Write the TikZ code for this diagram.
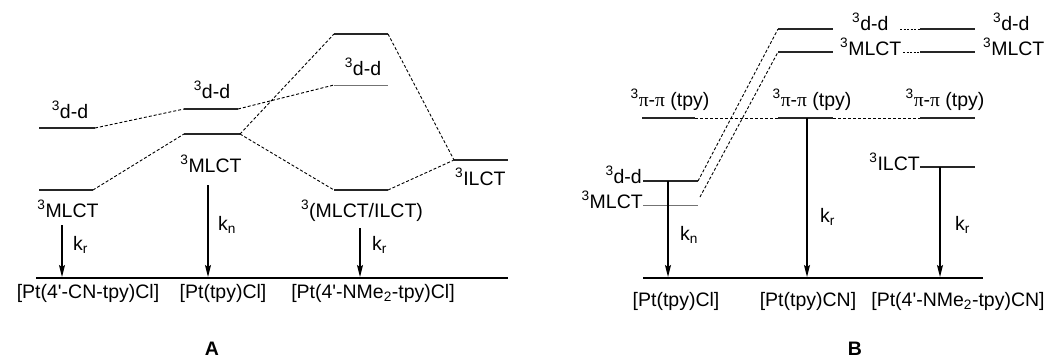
\documentclass[tikz,border=0pt]{standalone}
\usepackage{fontspec}
\setmainfont{Liberation Sans}
\newfontfamily\pifont{Liberation Serif}
\usetikzlibrary{arrows.meta}
\newcommand{\tri}{\textsuperscript{3}}
\newcommand{\aps}{\textquotesingle}
\begin{document}
\begin{tikzpicture}[x=1pt,y=-1pt,
  lbl/.style={inner sep=0pt, font=\fontsize{19.5}{24}\selectfont},
  lvl/.style={line width=1.3pt, black!85},
  tlvl/.style={line width=0.9pt, black!55},
  conn/.style={line width=0.9pt, dash pattern=on 3pt off 2pt},
  dots/.style={line width=0.8pt, dash pattern=on 2pt off 1.5pt},
  decay/.style={line width=1.3pt, -{Stealth[length=12pt,width=6pt,inset=2pt]}},
  ground/.style={line width=1.6pt}]
\useasboundingbox (0,0) rectangle (1052,360);

% ---------------- Panel A ----------------
\coordinate (AdL1) at (39,128);  \coordinate (AdL2) at (95,128);
\coordinate (AdM1) at (184,109); \coordinate (AdM2) at (238,109);
\coordinate (AdR1) at (334,85);  \coordinate (AdR2) at (388,85);
\coordinate (AmL1) at (39,190);  \coordinate (AmL2) at (93,190);
\coordinate (AmM1) at (184,134); \coordinate (AmM2) at (240,134);
\coordinate (AT1) at (334,34);   \coordinate (AT2) at (388,34);
\coordinate (AmR1) at (334,190); \coordinate (AmR2) at (388,190);
\coordinate (AI1) at (454,160);  \coordinate (AI2) at (508,160);
\coordinate (AG1) at (36,278);   \coordinate (AG2) at (508,278);

\draw[lvl] (AdL1) -- (AdL2);
\draw[lvl] (AdM1) -- (AdM2);
\draw[tlvl] (AdR1) -- (AdR2);
\draw[lvl] (AmL1) -- (AmL2);
\draw[lvl] (AmM1) -- (AmM2);
\draw[lvl] (AT1) -- (AT2);
\draw[lvl] (AmR1) -- (AmR2);
\draw[lvl] (AI1) -- (AI2);
\draw[ground] (AG1) -- (AG2);

\draw[conn] (AdL2) -- (AdM1);
\draw[conn] (AdM2) -- (AdR1);
\draw[conn] (AmL2) -- (AmM1);
\draw[conn] (AmM2) -- (AT1);
\draw[conn] (AmM2) -- (AmR1);
\draw[conn] (AT2) -- (AI1);
\draw[conn] (AmR2) -- (AI1);

\node[lbl, anchor=base] (tAdL) at (70,118) {\tri d-d};
\node[lbl, anchor=base] (tAdM) at (212,98) {\tri d-d};
\node[lbl, anchor=base] (tAmM) at (211,172) {\tri MLCT};
\node[lbl, anchor=base] (tAdR) at (363,75) {\tri d-d};
\node[lbl, anchor=base west] (tAI) at (455,185) {\tri ILCT};
\node[lbl, anchor=base] (tAmL) at (68,217) {\tri MLCT};
\node[lbl, anchor=base] (tAmR) at (362,217) {\tri(MLCT/ILCT)};

\coordinate (Aa1s) at (62,225);  \coordinate (Aa1e) at (62,277);
\coordinate (Aa2s) at (208,185); \coordinate (Aa2e) at (208,277);
\coordinate (Aa3s) at (360,228); \coordinate (Aa3e) at (360,277);
\draw[decay] (Aa1s) -- (Aa1e);
\draw[decay] (Aa2s) -- (Aa2e);
\draw[decay] (Aa3s) -- (Aa3e);
\node[lbl, anchor=base west] (kA1) at (73,250) {k\textsubscript{r}};
\node[lbl, anchor=base west] (kA2) at (218,230) {k\textsubscript{n}};
\node[lbl, anchor=base west] (kA3) at (372,250) {k\textsubscript{r}};

\node[lbl, anchor=base] (cA1) at (88,298) {[Pt(4\aps-CN-tpy)Cl]};
\node[lbl, anchor=base] (cA2) at (223,298) {[Pt(tpy)Cl]};
\node[lbl, anchor=base] (cA3) at (373,298) {[Pt(4\aps-NMe\textsubscript{2}-tpy)Cl]};
\node[lbl, anchor=base] (pA) at (212,355) {\textbf{A}};

% ---------------- Panel B ----------------
\coordinate (BdT1) at (778,29);  \coordinate (BdT2) at (833,29);
\coordinate (BmT1) at (778,52);  \coordinate (BmT2) at (833,52);
\coordinate (BdR0) at (900,29);  \coordinate (BdR1) at (920,29);  \coordinate (BdR2) at (975,29);
\coordinate (BmR0) at (903,52);  \coordinate (BmR1) at (920,52);  \coordinate (BmR2) at (975,52);
\coordinate (BpL1) at (642,118); \coordinate (BpL2) at (695,118);
\coordinate (BpM1) at (778,118); \coordinate (BpM2) at (833,118);
\coordinate (BpR1) at (920,118); \coordinate (BpR2) at (975,118);
\coordinate (BI1) at (920,167);  \coordinate (BI2) at (975,167);
\coordinate (BdL1) at (643,181); \coordinate (BdL2) at (698,181);
\coordinate (BmL1) at (643,205); \coordinate (BmL2) at (698,205);
\coordinate (Bend) at (700,197);
\coordinate (BG1) at (643,278);  \coordinate (BG2) at (983,278);

\draw[lvl] (BdT1) -- (BdT2);
\draw[lvl] (BmT1) -- (BmT2);
\draw[dots] (BdR0) -- (BdR1);
\draw[lvl] (BdR1) -- (BdR2);
\draw[dots] (BmR0) -- (BmR1);
\draw[lvl] (BmR1) -- (BmR2);
\draw[lvl] (BpL1) -- (BpL2);
\draw[lvl] (BpM1) -- (BpM2);
\draw[lvl] (BpR1) -- (BpR2);
\draw[lvl] (BI1) -- (BI2);
\draw[lvl] (BdL1) -- (BdL2);
\draw[tlvl] (BmL1) -- (BmL2);
\draw[ground] (BG1) -- (BG2);

\draw[conn] (BpL2) -- (BpM1);
\draw[conn] (BpM2) -- (BpR1);
\draw[conn] (BdL2) -- (BdT1);
\draw[conn] (Bend) -- (BmT1);

\node[lbl, anchor=base west] (tBdT) at (852,30) {\tri d-d};
\node[lbl, anchor=base west] (tBmT) at (840,55) {\tri MLCT};
\node[lbl, anchor=base west] (tBdR) at (993,30) {\tri d-d};
\node[lbl, anchor=base west] (tBmR) at (983,55) {\tri MLCT};
\node[lbl, anchor=base] (tBpL) at (670,106) {\tri{\pifont π}-{\pifont π} (tpy)};
\node[lbl, anchor=base] (tBpM) at (812,106) {\tri{\pifont π}-{\pifont π} (tpy)};
\node[lbl, anchor=base] (tBpR) at (945,106) {\tri{\pifont π}-{\pifont π} (tpy)};
\node[lbl, anchor=base east] (tBI) at (920,170) {\tri ILCT};
\node[lbl, anchor=base east] (tBdL) at (642,183) {\tri d-d};
\node[lbl, anchor=base east] (tBmL) at (643,208) {\tri MLCT};

\coordinate (Ba1s) at (668,181); \coordinate (Ba1e) at (668,277);
\coordinate (Ba2s) at (807,118); \coordinate (Ba2e) at (807,277);
\coordinate (Ba3s) at (940,167); \coordinate (Ba3e) at (940,277);
\draw[decay] (Ba1s) -- (Ba1e);
\draw[decay] (Ba2s) -- (Ba2e);
\draw[decay] (Ba3s) -- (Ba3e);
\node[lbl, anchor=base west] (kB1) at (680,240) {k\textsubscript{n}};
\node[lbl, anchor=base west] (kB2) at (820,222) {k\textsubscript{r}};
\node[lbl, anchor=base west] (kB3) at (955,230) {k\textsubscript{r}};

\node[lbl, anchor=base] (cB1) at (676,306) {[Pt(tpy)Cl]};
\node[lbl, anchor=base] (cB2) at (808,306) {[Pt(tpy)CN]};
\node[lbl, anchor=base] (cB3) at (958,306) {[Pt(4\aps-NMe\textsubscript{2}-tpy)CN]};
\node[lbl, anchor=base] (pB) at (855,355) {\textbf{B}};
\end{tikzpicture}
\end{document}
